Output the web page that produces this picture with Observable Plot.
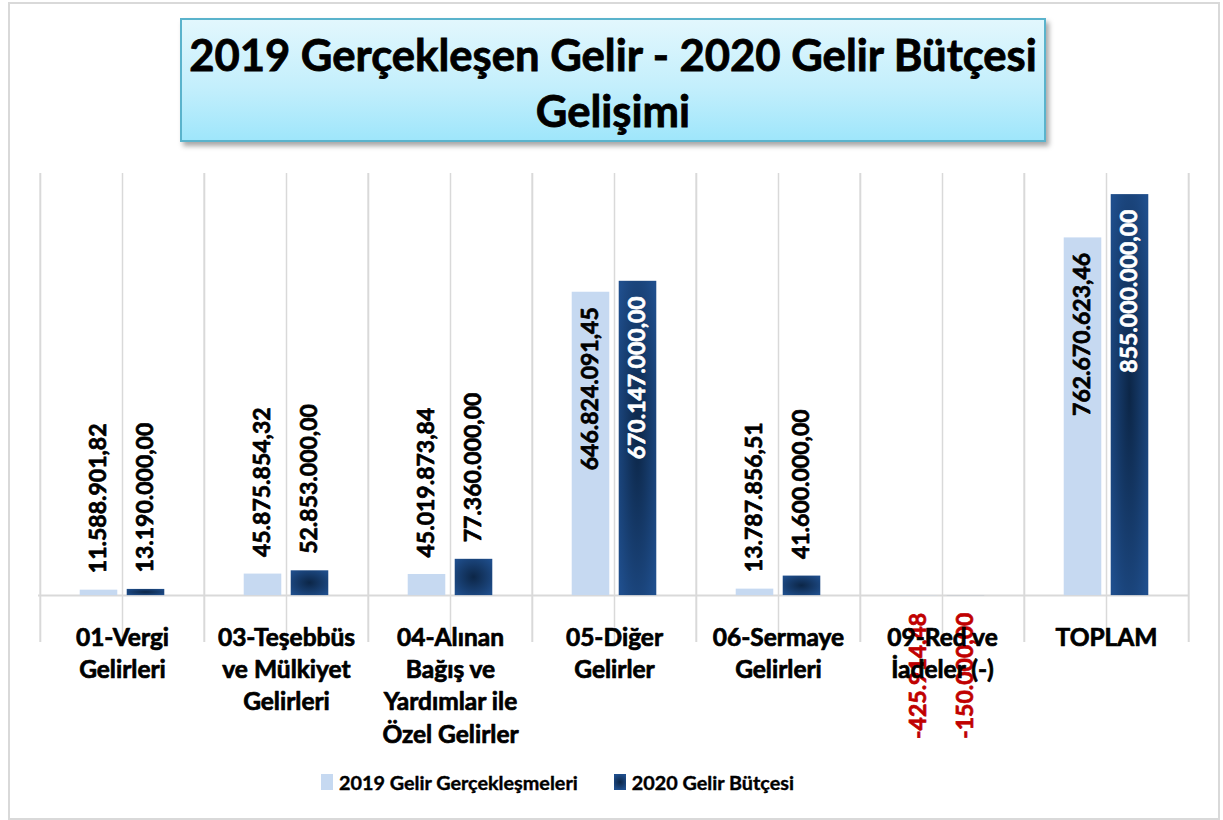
<!DOCTYPE html>
<html>
<head>
<meta charset="utf-8">
<script src="https://cdn.jsdelivr.net/npm/d3@7"></script>
<script src="https://cdn.jsdelivr.net/npm/@observablehq/plot@0.6"></script>
<style>
  html, body { margin: 0; padding: 0; background: #fff; }
  body { width: 1223px; height: 820px; overflow: hidden; font-family: Lato, "Noto Sans", sans-serif; }
  #wrap { position: relative; width: 1223px; height: 820px; }
  #frame { position: absolute; left: 8px; top: 2px; width: 1208px; height: 814px; border: 2px solid #d9d9d9; box-sizing: content-box; }
  #title { position: absolute; left: 180px; top: 18px; width: 866px; height: 124px;
    background: linear-gradient(to bottom, #e2f7fd 0%, #c4effc 55%, #9fe6fb 100%);
    border: 2px solid #5ab3cc; box-shadow: 3px 4px 5px rgba(0,0,0,0.35);
    text-align: center; font-weight: 700; font-size: 43.6px; line-height: 56px; color: #000;
    -webkit-text-stroke: 0.8px #000;
    padding-top: 6px; box-sizing: border-box; }
  #chart { position: absolute; left: 0; top: 150px; }
  #chart svg { overflow: visible; }
  #legend { position: absolute; left: 321px; top: 770px; display: flex; align-items: center;
    font-weight: 700; font-size: 19.8px; color: #000; -webkit-text-stroke: 0.4px #000; }
  .sw { width: 12px; height: 16px; display: inline-block; margin-right: 6px; }
  .item { display: flex; align-items: center; margin-right: 36px; }
</style>
</head>
<body>
<div id="wrap">
  <div id="frame"></div>
  <div id="title"></div>
  <div id="chart"></div>
  <div id="legend"></div>
</div>
<script>
const titleLines = ["2019 Gerçekleşen Gelir - 2020 Gelir Bütçesi", "Gelişimi"];
const categories = [
  "01-Vergi\nGelirleri",
  "03-Teşebbüs\nve Mülkiyet\nGelirleri",
  "04-Alınan\nBağış ve\nYardımlar ile\nÖzel Gelirler",
  "05-Diğer\nGelirler",
  "06-Sermaye\nGelirleri",
  "09-Red ve\nİadeler (-)",
  "TOPLAM"
];
const seriesNames = ["2019 Gelir Gerçekleşmeleri", "2020 Gelir Bütçesi"];
const gelir2019 = [11588901.82, 45875854.32, 45019873.84, 646824091.45, 13787856.51, -425914.48, 762670623.46];
const butce2020 = [13190000, 52853000, 77360000, 670147000, 41600000, -150000, 855000000];
const yDomain = [-100000000, 900000000];

const lightColor = "#c6d9f1";
const darkEdge = "#1f4e8c";
const darkCore = "#0c2647";
const redColor = "#c00000";

document.getElementById("title").innerHTML = titleLines.join("<br>");

const trLocale = d3.formatLocale({decimal: ",", thousands: ".", grouping: [3], currency: ["", ""], minus: "-"});
const fmt = trLocale.format(",.2f");

const rows = [];
categories.forEach((c, i) => {
  rows.push({cat: c, series: 0, v: gelir2019[i]});
  rows.push({cat: c, series: 1, v: butce2020[i]});
});
const INSIDE_MIN = 300000000;
rows.forEach(d => {
  d.label = fmt(d.v);
  d.pos = d.v < 0 ? "neg" : (d.v >= INSIDE_MIN ? "in" : "out");
});

const W = 1223, H = 600;
const mL = 38, mR = 34, mT = 23, mB = 108;
const bw = (W - mL - mR) / categories.length;
const barW = 38, gap = 9;
const innerInset = bw / 2 - gap / 2 - barW;
const lightOpts = {insetLeft: innerInset, insetRight: bw / 2 + gap / 2};
const darkOpts = {insetLeft: bw / 2 + gap / 2, insetRight: innerInset};
const off = gap / 2 + barW / 2;

const s0 = rows.filter(d => d.series === 0);
const s1 = rows.filter(d => d.series === 1);

const defs = () => {
  const g = d3.create("svg:defs");
  const rg = g.append("radialGradient").attr("id", "darkGrad")
    .attr("cx", "50%").attr("cy", "50%").attr("r", "65%");
  rg.append("stop").attr("offset", "0%").attr("stop-color", darkCore);
  rg.append("stop").attr("offset", "100%").attr("stop-color", darkEdge);
  return g.node();
};

const labelFont = {fontSize: 23, fontWeight: 700, fontFamily: "Lato, sans-serif", rotate: -90, strokeWidth: 0.7};

const chart = Plot.plot({
  width: W, height: H,
  marginLeft: mL, marginRight: mR, marginTop: mT, marginBottom: mB,
  x: {type: "band", domain: categories, padding: 0, axis: null},
  y: {domain: yDomain, axis: null},
  style: {background: "transparent", overflow: "visible"},
  marks: [
    defs,
    Plot.ruleX(categories, {x: d => d, y1: yDomain[0], y2: yDomain[1], stroke: "#d9d9d9", strokeWidth: 1.5}),
    Plot.ruleX(categories, {x: d => d, y1: yDomain[0], y2: yDomain[1], dx: -bw / 2, stroke: "#d9d9d9", strokeWidth: 2}),
    Plot.ruleX(categories.slice(-1), {x: d => d, y1: yDomain[0], y2: yDomain[1], dx: bw / 2, stroke: "#d9d9d9", strokeWidth: 2}),
    Plot.ruleY([0], {stroke: "#d9d9d9", strokeWidth: 2}),
    Plot.barY(s0, {x: "cat", y: "v", fill: lightColor, ...lightOpts}),
    Plot.barY(s1, {x: "cat", y: "v", fill: "url(#darkGrad)", ...darkOpts}),
    Plot.text(s0.filter(d => d.pos === "out"), {x: "cat", y: "v", text: "label", dx: -off, dy: -17, textAnchor: "start", fill: "#000", stroke: "#000", ...labelFont}),
    Plot.text(s1.filter(d => d.pos === "out"), {x: "cat", y: "v", text: "label", dx: off, dy: -17, textAnchor: "start", fill: "#000", stroke: "#000", ...labelFont}),
    Plot.text(s0.filter(d => d.pos === "in"), {x: "cat", y: "v", text: "label", dx: -off, dy: 15, textAnchor: "end", fill: "#000", stroke: "#000", ...labelFont}),
    Plot.text(s1.filter(d => d.pos === "in"), {x: "cat", y: "v", text: "label", dx: off, dy: 15, textAnchor: "end", fill: "#fff", stroke: "#fff", ...labelFont}),
    Plot.text(s0.filter(d => d.pos === "neg"), {x: "cat", y: "v", text: "label", dx: -off, dy: 17, textAnchor: "end", fill: redColor, stroke: redColor, ...labelFont}),
    Plot.text(s1.filter(d => d.pos === "neg"), {x: "cat", y: "v", text: "label", dx: off, dy: 17, textAnchor: "end", fill: redColor, stroke: redColor, ...labelFont}),
    Plot.text(categories, {x: d => d, y: () => 0, text: d => d, lineAnchor: "top", dy: 27, lineHeight: 1.32,
      fontSize: 24.5, fontWeight: 700, fontFamily: "Lato, sans-serif", fill: "#000", stroke: "#000", strokeWidth: 0.7})
  ]
});
document.getElementById("chart").appendChild(chart);

const legend = document.getElementById("legend");
const sw = [lightColor, "radial-gradient(circle, " + darkCore + " 0%, " + darkEdge + " 80%)"];
seriesNames.forEach((n, i) => {
  const it = document.createElement("div");
  it.className = "item";
  const s = document.createElement("span");
  s.className = "sw";
  s.style.background = sw[i];
  it.appendChild(s);
  const t = document.createElement("span");
  t.textContent = n;
  it.appendChild(t);
  legend.appendChild(it);
});
</script>
</body>
</html>
